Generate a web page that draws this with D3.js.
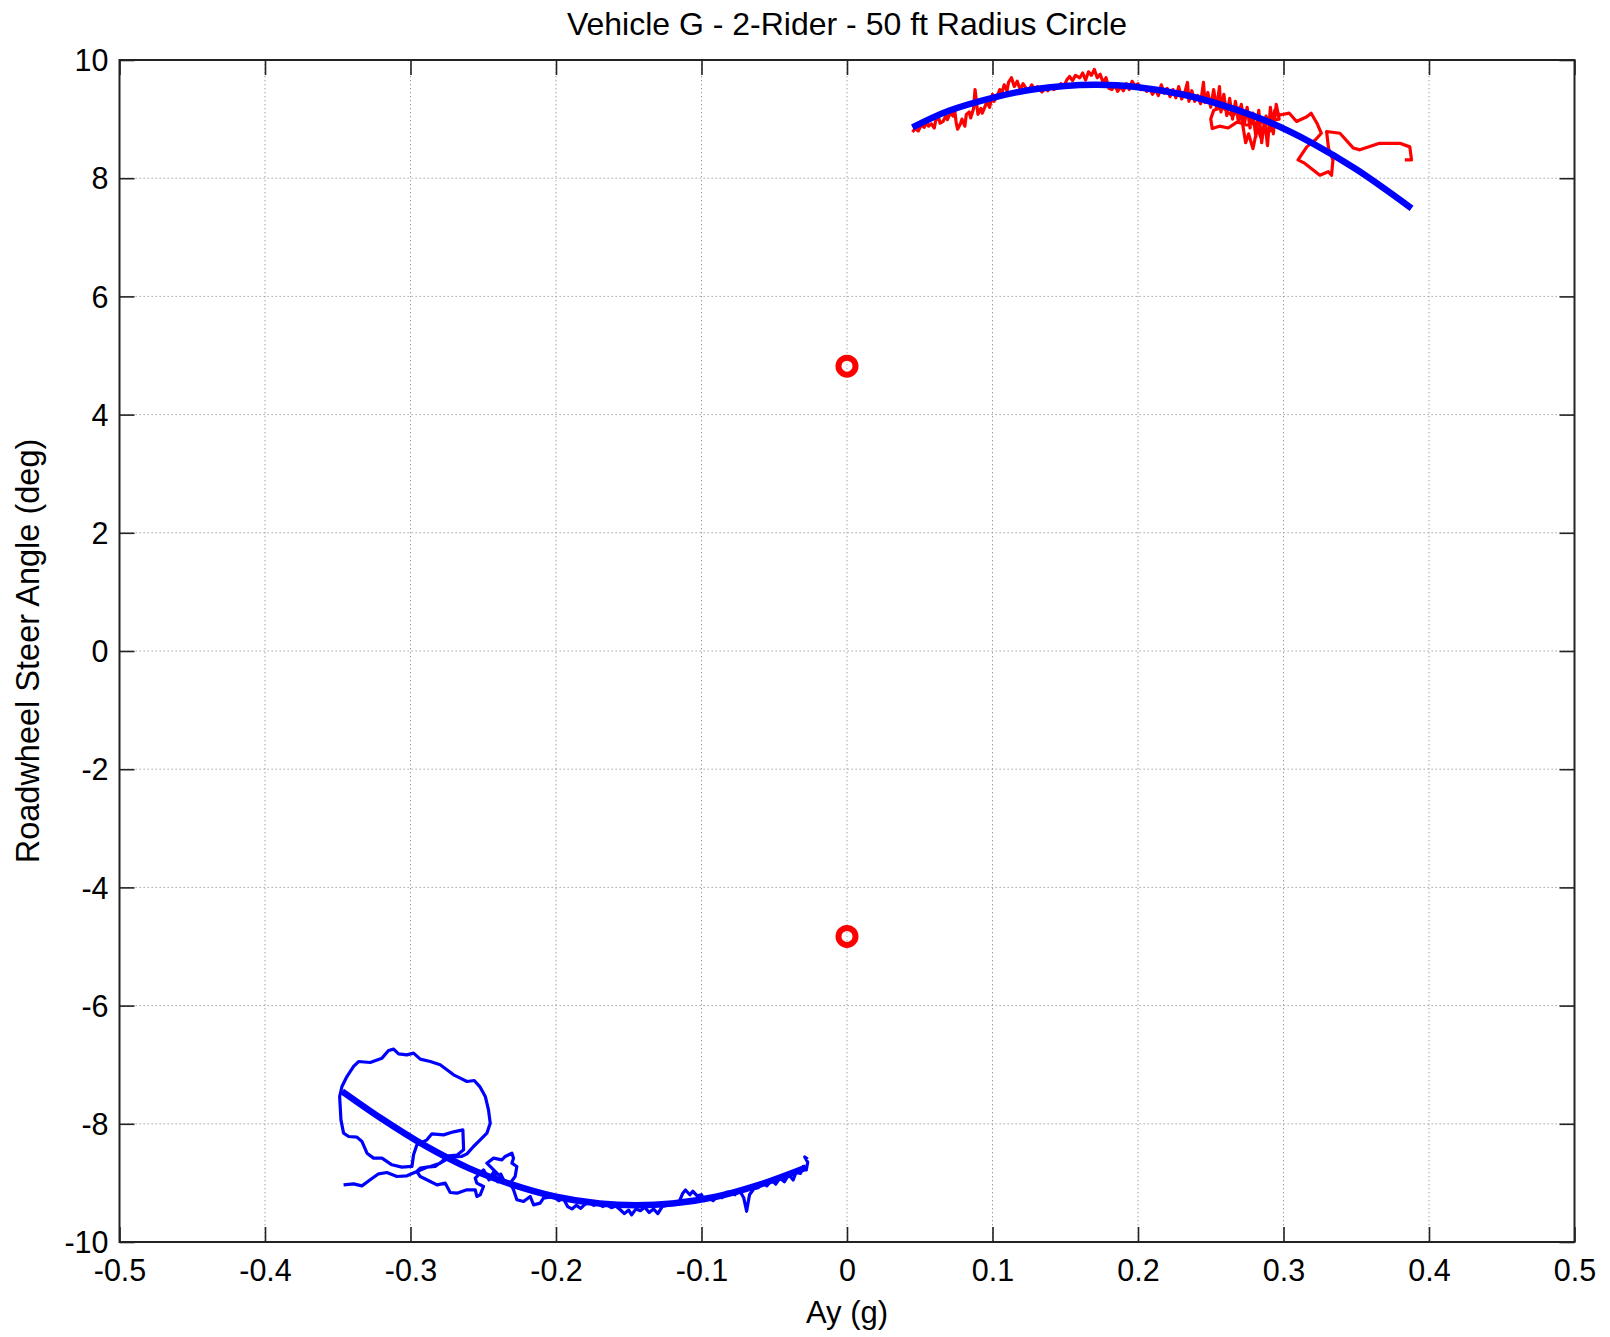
<!DOCTYPE html>
<html>
<head>
<meta charset="utf-8">
<script src="https://cdn.jsdelivr.net/npm/d3@7"></script>
<style>
  html, body { margin: 0; padding: 0; background: #fff; }
  svg text { font-family: "Liberation Sans", Arial, Helvetica, sans-serif; fill: #000; }
</style>
</head>
<body>
<svg id="chart" width="1610" height="1337"></svg>
<script>
// ---------- DATA ----------
const chartTitle = "Vehicle G - 2-Rider - 50 ft Radius Circle";
const xLabel = "Ay (g)";
const yLabel = "Roadwheel Steer Angle (deg)";

const xTicks = [-0.5, -0.4, -0.3, -0.2, -0.1, 0, 0.1, 0.2, 0.3, 0.4, 0.5];
const xTickLabels = ["-0.5", "-0.4", "-0.3", "-0.2", "-0.1", "0", "0.1", "0.2", "0.3", "0.4", "0.5"];
const yTicks = [-10, -8, -6, -4, -2, 0, 2, 4, 6, 8, 10];
const yTickLabels = ["-10", "-8", "-6", "-4", "-2", "0", "2", "4", "6", "8", "10"];

// Measured trace, right turn (red)
const redTrace = [
  [0.045,8.78],[0.047,8.84],[0.049,8.8],[0.051,8.9],[0.053,8.86],[0.055,8.95],[0.056,8.88],[0.058,8.92],
  [0.06,8.85],[0.061,8.98],[0.063,9.02],[0.064,8.93],[0.066,8.96],[0.068,9.06],[0.069,8.99],[0.071,9.1],
  [0.073,9.05],[0.074,9.15],[0.075,8.95],[0.076,8.83],[0.078,8.92],[0.079,9.0],[0.081,8.88],[0.082,9.08],
  [0.084,9.12],[0.085,9.02],[0.087,9.18],[0.088,9.5],[0.089,9.28],[0.09,9.08],[0.092,9.18],[0.093,9.1],
  [0.095,9.22],[0.096,9.3],[0.098,9.2],[0.1,9.42],[0.101,9.3],[0.103,9.38],[0.105,9.5],[0.106,9.4],
  [0.108,9.58],[0.11,9.48],[0.111,9.62],[0.113,9.7],[0.115,9.55],[0.117,9.64],[0.119,9.5],[0.121,9.6],
  [0.123,9.52],[0.125,9.48],[0.127,9.58],[0.129,9.5],[0.131,9.55],[0.134,9.46],[0.136,9.52],[0.138,9.48],
  [0.14,9.56],[0.142,9.5],[0.145,9.53],[0.147,9.6],[0.149,9.55],[0.151,9.66],[0.153,9.72],[0.155,9.65],
  [0.157,9.74],[0.16,9.7],[0.162,9.78],[0.164,9.66],[0.166,9.8],[0.168,9.74],[0.17,9.84],[0.172,9.7],
  [0.174,9.76],[0.176,9.62],[0.178,9.7],[0.18,9.52],[0.182,9.5],[0.184,9.58],[0.186,9.47],[0.188,9.55],
  [0.19,9.48],[0.192,9.6],[0.194,9.5],[0.196,9.64],[0.198,9.56],[0.2,9.6],[0.202,9.5],[0.204,9.55],
  [0.206,9.47],[0.208,9.52],[0.21,9.42],[0.212,9.5],[0.214,9.4],[0.216,9.58],[0.218,9.44],[0.22,9.52],
  [0.222,9.38],[0.224,9.5],[0.226,9.36],[0.228,9.55],[0.23,9.34],[0.232,9.44],[0.234,9.62],[0.235,9.3],
  [0.237,9.48],[0.239,9.3],[0.241,9.4],[0.243,9.26],[0.245,9.62],[0.246,9.28],[0.248,9.45],[0.25,9.2],
  [0.252,9.5],[0.254,9.18],[0.256,9.55],[0.257,9.12],[0.259,9.42],[0.261,9.06],[0.263,9.35],[0.265,9.0],
  [0.267,9.3],[0.269,8.96],[0.271,9.25],[0.273,8.9],[0.275,9.2],[0.277,8.85],[0.279,9.1],[0.281,8.7],
  [0.283,9.15],[0.285,8.6],[0.287,9.0],[0.289,8.55],[0.291,9.2],[0.293,8.75],[0.295,9.25],[0.297,9.0],
  [0.285,8.95],[0.275,8.9],[0.268,8.95],[0.262,8.85],[0.256,8.88],[0.251,8.84],[0.25,9.0],[0.252,9.15],
  [0.258,9.2],[0.265,9.05],[0.27,9.2],[0.274,8.6],[0.276,8.75],[0.279,8.5],[0.282,8.85],[0.285,8.65],
  [0.288,9.05],[0.291,8.8],[0.294,9.15],[0.2975,9.07],[0.304,9.1],[0.309,8.96],[0.316,9.04],[0.319,9.1],
  [0.323,8.93],[0.326,8.76],[0.322,8.65],[0.316,8.53],[0.31,8.31],[0.3147,8.25],[0.3204,8.14],[0.325,8.05],
  [0.3307,8.11],[0.333,8.05],[0.334,8.31],[0.331,8.5],[0.3296,8.79],[0.3388,8.76],[0.348,8.51],[0.3525,8.48],
  [0.366,8.59],[0.38,8.59],[0.3868,8.53],[0.388,8.31],[0.3834,8.31]
];

// Measured trace, left turn (blue)
const blueTrace = [
  [-0.346,-9.033],[-0.3391,-9.016],[-0.3334,-9.05],[-0.3277,-8.948],[-0.3219,-8.846],[-0.3162,-8.824],
  [-0.3093,-8.892],[-0.3025,-8.88],[-0.2956,-8.807],[-0.2887,-8.734],[-0.283,-8.722],[-0.2784,-8.638],
  [-0.2738,-8.542],[-0.2681,-8.531],[-0.2635,-8.44],[-0.264,-8.102],[-0.2704,-8.136],[-0.2773,-8.187],
  [-0.2853,-8.17],[-0.2887,-8.271],[-0.2956,-8.356],[-0.2979,-8.525],[-0.299,-8.722],[-0.3059,-8.734],
  [-0.3128,-8.694],[-0.3196,-8.581],[-0.3254,-8.581],[-0.3299,-8.497],[-0.3334,-8.299],[-0.3368,-8.226],
  [-0.3425,-8.215],[-0.346,-8.158],[-0.3478,-7.933],[-0.3487,-7.538],[-0.3471,-7.369],[-0.3437,-7.2],
  [-0.3391,-7.03],[-0.3357,-6.946],[-0.3277,-6.963],[-0.3196,-6.889],[-0.3151,-6.76],[-0.3116,-6.737],
  [-0.3082,-6.816],[-0.3025,-6.833],[-0.2979,-6.805],[-0.2933,-6.906],[-0.2864,-6.946],[-0.2796,-7.002],
  [-0.275,-7.087],[-0.2704,-7.171],[-0.2658,-7.228],[-0.2612,-7.284],[-0.2562,-7.267],[-0.2521,-7.38],
  [-0.2486,-7.538],[-0.2464,-7.764],[-0.2452,-7.989],[-0.2475,-8.158],[-0.2521,-8.271],[-0.2567,-8.384],
  [-0.2612,-8.508],[-0.265,-8.553],[-0.2727,-8.564],[-0.2796,-8.666],[-0.2864,-8.722],[-0.2933,-8.751],
  [-0.2956,-8.807],[-0.2933,-8.892],[-0.2864,-8.976],[-0.2818,-9.033],[-0.2761,-9.004],[-0.2727,-9.162],
  [-0.2681,-9.174],[-0.2612,-9.117],[-0.2555,-9.117],[-0.2544,-9.23],[-0.2521,-9.202],[-0.2498,-9.061],
  [-0.2544,-9.004],[-0.2555,-8.92],[-0.2498,-8.779],[-0.246,-8.95],[-0.243,-8.82],[-0.24,-8.98],
  [-0.238,-8.85],[-0.236,-8.95],[-0.2475,-8.666],[-0.2429,-8.581],[-0.2372,-8.61],[-0.2349,-8.553],
  [-0.2303,-8.497],[-0.2292,-8.581],[-0.2303,-8.666],[-0.2269,-8.722],[-0.2281,-8.892],[-0.2315,-9.004],
  [-0.2292,-9.117],[-0.2269,-9.286],[-0.2223,-9.315],[-0.2177,-9.23],[-0.2154,-9.371],[-0.2109,-9.343],
  [-0.2086,-9.258],[-0.2017,-9.23],
  [-0.198,-9.3],[-0.195,-9.26],[-0.192,-9.4],[-0.189,-9.44],[-0.186,-9.38],[-0.183,-9.43],[-0.18,-9.36],
  [-0.177,-9.33],[-0.174,-9.38],[-0.171,-9.35],[-0.168,-9.4],[-0.165,-9.37],[-0.162,-9.42],[-0.159,-9.39],
  [-0.156,-9.45],[-0.153,-9.52],[-0.15,-9.46],[-0.148,-9.54],[-0.145,-9.44],[-0.142,-9.47],[-0.139,-9.41],
  [-0.136,-9.5],[-0.133,-9.44],[-0.13,-9.52],[-0.127,-9.4],[-0.124,-9.38],[-0.121,-9.33],[-0.118,-9.36],
  [-0.115,-9.3],[-0.113,-9.18],[-0.111,-9.12],[-0.108,-9.2],[-0.106,-9.14],[-0.103,-9.22],[-0.1,-9.2],
  [-0.098,-9.3],[-0.095,-9.26],[-0.092,-9.3],[-0.089,-9.22],[-0.086,-9.25],[-0.083,-9.16],[-0.08,-9.15],
  [-0.077,-9.2],[-0.074,-9.12],[-0.071,-9.25],[-0.069,-9.48],[-0.067,-9.2],[-0.064,-9.1],[-0.061,-9.08],
  [-0.058,-9.0],[-0.055,-9.05],[-0.052,-8.95],[-0.049,-9.02],[-0.046,-8.92],[-0.043,-8.98],[-0.04,-8.86],
  [-0.037,-8.95],[-0.035,-8.82],[-0.032,-8.84],[-0.03,-8.72],[-0.028,-8.78],[-0.027,-8.65],[-0.029,-8.56],
  [-0.027,-8.6]
];

// Fitted curves (thick blue)
const fitRight = [
  [0.045,8.86],[0.07,9.14],[0.1,9.36],[0.13,9.51],[0.17,9.58],[0.2,9.54],[0.23,9.42],
  [0.26,9.22],[0.29,8.95],[0.32,8.59],[0.35,8.15],[0.388,7.49]
];
const fitLeft = [
  [-0.347,-7.45],[-0.32,-7.91],[-0.29,-8.37],[-0.26,-8.75],[-0.23,-9.03],[-0.2,-9.235],
  [-0.17,-9.35],[-0.145,-9.38],[-0.12,-9.35],[-0.09,-9.235],[-0.06,-9.03],[-0.028,-8.74]
];

// Zero-g steer points (red circles)
const zeroPoints = [[0, 4.82], [0, -4.83]];

// ---------- LAYOUT ----------
const W = 1610, H = 1337;
const L = 119.5, R = 1574.5, T = 60, B = 1242;
const FONT_TICK = 30.5;

const svg = d3.select("#chart");
svg.append("rect").attr("width", W).attr("height", H).attr("fill", "#fff");

const x = d3.scaleLinear().domain([-0.5, 0.5]).range([L, R]);
const y = d3.scaleLinear().domain([-10, 10]).range([B, T]);

// Grid
const grid = svg.append("g");
grid.selectAll("line.vx").data(xTicks).join("line")
  .attr("x1", d => x(d)).attr("x2", d => x(d)).attr("y1", T).attr("y2", B)
  .attr("stroke", "#999").attr("stroke-width", 1).attr("stroke-dasharray", "1.3,2.7");
grid.selectAll("line.hy").data(yTicks).join("line")
  .attr("y1", d => y(d)).attr("y2", d => y(d)).attr("x1", L).attr("x2", R)
  .attr("stroke", "#999").attr("stroke-width", 1).attr("stroke-dasharray", "1.3,2.7");

// Axes
const TICK = 15;
const axB = svg.append("g").attr("transform", `translate(0,${B})`)
  .call(d3.axisBottom(x).tickValues(xTicks).tickSizeInner(-TICK).tickSizeOuter(0)
    .tickPadding(17).tickFormat((d, i) => xTickLabels[i]));
const axT = svg.append("g").attr("transform", `translate(0,${T})`)
  .call(d3.axisTop(x).tickValues(xTicks).tickSizeInner(-TICK).tickSizeOuter(0).tickFormat(""));
const axL = svg.append("g").attr("transform", `translate(${L},0)`)
  .call(d3.axisLeft(y).tickValues(yTicks).tickSizeInner(-TICK).tickSizeOuter(0)
    .tickPadding(11).tickFormat((d, i) => yTickLabels[i]));
const axR = svg.append("g").attr("transform", `translate(${R},0)`)
  .call(d3.axisRight(y).tickValues(yTicks).tickSizeInner(-TICK).tickSizeOuter(0).tickFormat(""));

[axB, axT, axL, axR].forEach(g => {
  g.select(".domain").remove();
  g.selectAll(".tick line").attr("stroke", "#222").attr("stroke-width", 1.6);
  g.selectAll(".tick text").attr("font-size", FONT_TICK).attr("fill", "#000")
    .style("font-family", '"Liberation Sans", Arial, sans-serif');
});
axL.selectAll(".tick text").attr("dy", "0.35em");

// Box
svg.append("rect").attr("x", L).attr("y", T).attr("width", R - L).attr("height", B - T)
  .attr("fill", "none").attr("stroke", "#222").attr("stroke-width", 2);

// Data lines
const line = d3.line().x(d => x(d[0])).y(d => y(d[1]));

svg.append("path").datum(redTrace).attr("d", line)
  .attr("fill", "none").attr("stroke", "#ff0000").attr("stroke-width", 3.2)
  .attr("stroke-linejoin", "round");
svg.append("path").datum(blueTrace).attr("d", line)
  .attr("fill", "none").attr("stroke", "#0000ff").attr("stroke-width", 3.2)
  .attr("stroke-linejoin", "round");

[fitRight, fitLeft].forEach(f => {
  svg.append("path").datum(f).attr("d", d3.line().x(d => x(d[0])).y(d => y(d[1])).curve(d3.curveCatmullRom))
    .attr("fill", "none").attr("stroke", "#0000ff").attr("stroke-width", 6.5);
});

// Markers
svg.selectAll("circle.zp").data(zeroPoints).join("circle")
  .attr("cx", d => x(d[0])).attr("cy", d => y(d[1])).attr("r", 8.5)
  .attr("fill", "none").attr("stroke", "#ff0000").attr("stroke-width", 6);

// Labels
svg.append("text").attr("x", (L + R) / 2).attr("y", 35).attr("text-anchor", "middle")
  .attr("font-size", 32).text(chartTitle);
svg.append("text").attr("x", (L + R) / 2).attr("y", 1323).attr("text-anchor", "middle")
  .attr("font-size", 31).text(xLabel);
svg.append("text").attr("transform", `translate(39,${(T + B) / 2}) rotate(-90)`)
  .attr("text-anchor", "middle").attr("font-size", 32.5).text(yLabel);
</script>
</body>
</html>
